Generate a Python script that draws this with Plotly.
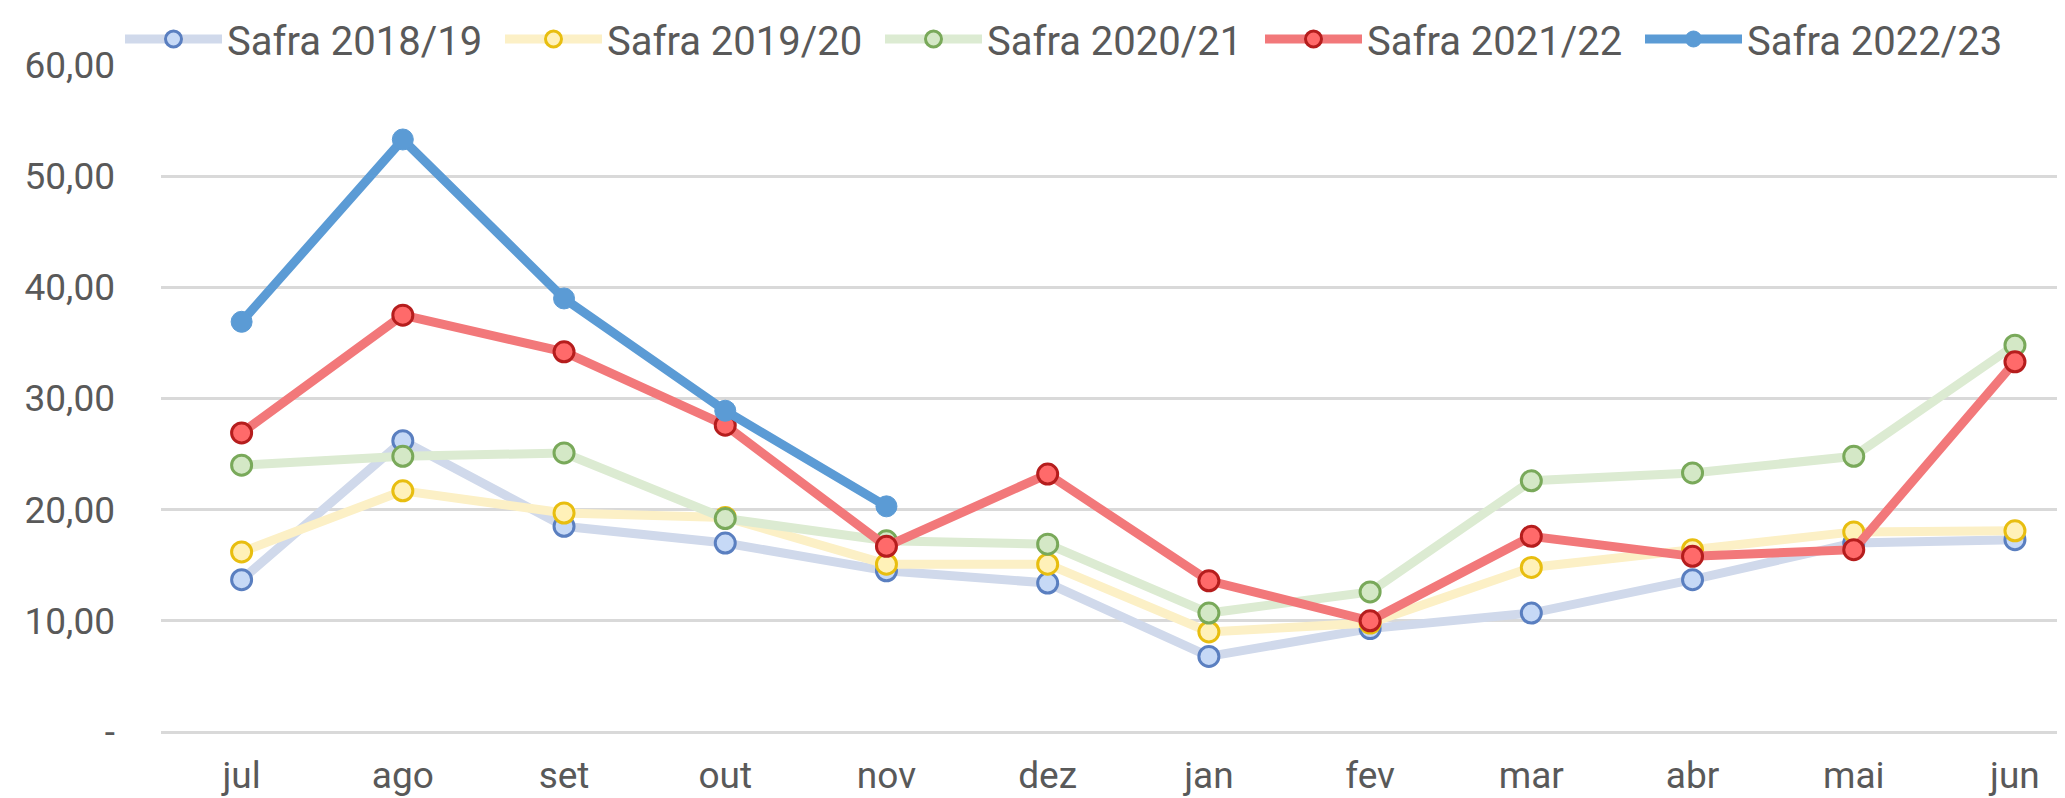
import plotly.graph_objects as go

months = ["jul", "ago", "set", "out", "nov", "dez", "jan", "fev", "mar", "abr", "mai", "jun"]
safra_2018_19 = [13.7, 26.2, 18.5, 17.0, 14.5, 13.4, 6.8, 9.3, 10.7, 13.7, 17.0, 17.3]
safra_2019_20 = [16.2, 21.7, 19.7, 19.3, 15.1, 15.1, 9.0, 9.8, 14.8, 16.4, 18.0, 18.1]
safra_2020_21 = [24.0, 24.8, 25.1, 19.2, 17.2, 16.9, 10.7, 12.6, 22.6, 23.3, 24.8, 34.8]
safra_2021_22 = [26.9, 37.5, 34.2, 27.6, 16.7, 23.2, 13.6, 10.0, 17.6, 15.8, 16.4, 33.3]
safra_2022_23 = [36.9, 53.3, 39.0, 28.9, 20.3]

tick_vals = [0, 10, 20, 30, 40, 50, 60]
tick_text = ["-", "10,00", "20,00", "30,00", "40,00", "50,00", "60,00"]

series = [
    ("Safra 2018/19", safra_2018_19, "#D0D9EB", "#C6D9F6", "#5A7FC0"),
    ("Safra 2019/20", safra_2019_20, "#FCF0C6", "#FFF1B8", "#E8BE10"),
    ("Safra 2020/21", safra_2020_21, "#DCEBD2", "#D4E8C6", "#79A95A"),
    ("Safra 2021/22", safra_2021_22, "#F2787A", "#FF6A6A", "#B51D1D"),
]

fig = go.Figure()
for name, vals, lc, mfill, mline in series:
    fig.add_trace(go.Scatter(
        x=months[:len(vals)], y=vals, name=name, mode="lines+markers",
        line=dict(color=lc, width=9),
        marker=dict(size=20, color=mfill, line=dict(color=mline, width=3)),
    ))
fig.add_trace(go.Scatter(
    x=months[:len(safra_2022_23)], y=safra_2022_23, name="Safra 2022/23", mode="lines+markers",
    line=dict(color="#5B9BD5", width=9),
    marker=dict(size=21, color="#5B9BD5", line=dict(color="#5B9BD5", width=1)),
))

fig.update_layout(
    width=2065, height=798,
    paper_bgcolor="white", plot_bgcolor="white",
    margin=dict(l=153, r=0, t=57, b=74, autoexpand=False),
    font=dict(family="Roboto", color="#595959"),
    showlegend=True,
    legend=dict(
        orientation="h", xref="container", x=112 / 2065, xanchor="left",
        yref="container", y=1 - 31 / 798, yanchor="middle",
        font=dict(family="Roboto", size=40, color="#595959"),
        entrywidth=268, entrywidthmode="pixels", itemwidth=97,
        bgcolor="rgba(0,0,0,0)", itemsizing="trace",
    ),
    xaxis=dict(
        type="category", categoryorder="array", categoryarray=months,
        range=[-0.5, 11.36], showgrid=False, showline=False, zeroline=False,
        ticks="", tickfont=dict(family="Roboto", size=37, color="#595959"),
        ticklabelstandoff=18,
    ),
    yaxis=dict(
        range=[0, 60], tickvals=tick_vals, ticktext=tick_text,
        showgrid=True, gridcolor="#D9D9D9", gridwidth=3,
        zeroline=True, zerolinecolor="#D9D9D9", zerolinewidth=3,
        showline=False, ticks="", ticklabelstandoff=45,
        tickfont=dict(family="Roboto", size=37, color="#595959"),
    ),
)

fig.write_html("out.html")
